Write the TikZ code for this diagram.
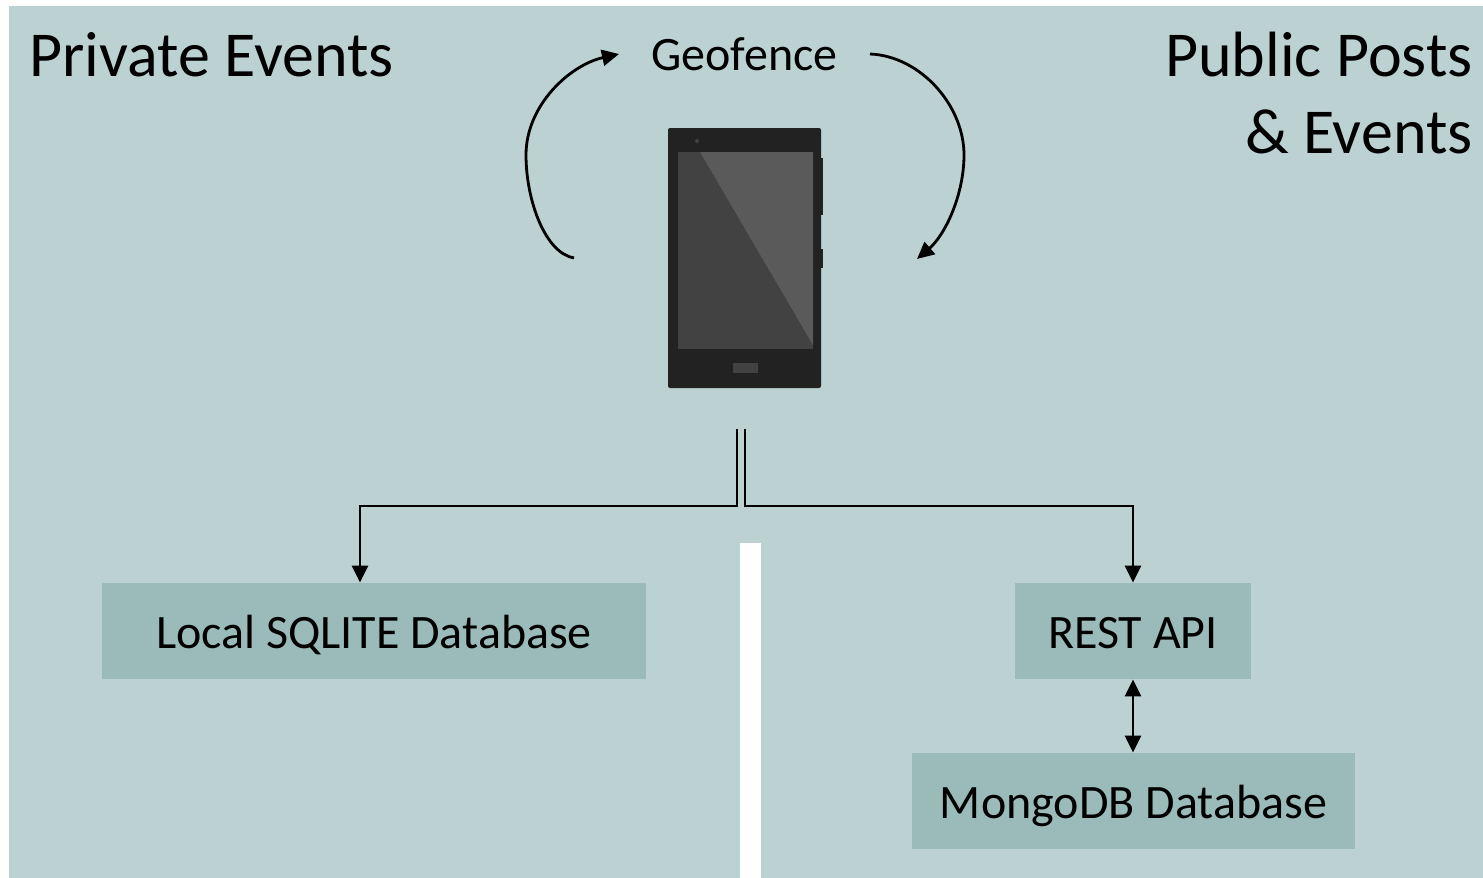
\documentclass[tikz,border=0pt]{standalone}
\usepackage{fontspec}
\setmainfont{Carlito}
\usetikzlibrary{positioning, arrows.meta}
\definecolor{panel}{HTML}{BBD1D2}
\definecolor{boxfill}{HTML}{9ABBBA}
\definecolor{phonebody}{HTML}{222222}
\definecolor{phonedark}{HTML}{424242}
\definecolor{phonelight}{HTML}{5A5A5A}
\tikzset{
  dbbox/.style={fill=boxfill, minimum height=48pt, inner sep=0pt, text height=20pt, text depth=3pt, font=\fontsize{24}{27}\selectfont},
  heading/.style={align=right, inner sep=0pt, font=\fontsize{32}{38.5}\selectfont},
  link/.style={line width=1.4pt, -{Triangle[length=8.5pt,width=8pt]}}
}
\begin{document}
\begin{tikzpicture}[x=0.5pt,y=-0.5pt]
\useasboundingbox (0,0) rectangle (1483,878);
%background
\fill[panel] (9,6) rectangle (1483,878);
\fill[white] (740,543) rectangle (761,878);
%headings
\node[heading, anchor=west](Private) at (29,55){Private Events};
\node[heading, anchor=east](Public) at (1473,93){Public Posts\\ \& Events};
\node[inner xsep=16pt, inner ysep=0pt, font=\fontsize{24}{27}\selectfont](Geofence) at (744.5,54){Geofence};
%phone
\fill[phonebody, rounded corners=1pt] (668,128) rectangle (821,388);
\fill[phonebody] (821,158) rectangle (823,215);
\fill[phonebody] (821,249) rectangle (823,268);
\fill[phonedark] (678,152) rectangle (813,349);
\fill[phonelight] (700,152) -- (813,152) -- (813,345) -- cycle;
\fill[phonedark] (733,363) rectangle (758,373);
\fill[phonedark] (697,141) circle (1pt);
%boxes
\node[dbbox, minimum width=272pt](Local) at (374,631){Local SQLITE Database};
\node[dbbox, minimum width=118pt](Rest) at (1133,631){REST API};
\node[dbbox, minimum width=221.5pt](Mongo) at (1133.5,801){MongoDB Database};
%geofence loop
\coordinate (LoopL) at (574,258);
\coordinate (LoopR) at (917,259);
\draw[link] (LoopL) .. controls (545,253) and (526,200) .. (526,155) .. controls (526,105) and (570,65) .. (Geofence.west);
\draw[link] (Geofence.east) .. controls (920,56) and (964,105) .. (964,155) .. controls (964,195) and (945,235) .. (LoopR);
%split below the phone
\coordinate (StemL) at (737,429);
\coordinate (StemR) at (745,429);
\coordinate (ElbowL) at (737,506);
\coordinate (ElbowR) at (745,506);
\coordinate (TurnL) at (360,506);
\draw[link] (StemL) -- (ElbowL) -- (TurnL) -- (TurnL |- Local.north);
\draw[link] (StemR) -- (ElbowR) -- (ElbowR -| Rest.north) -- (Rest.north);
\draw[link, {Triangle[length=8.5pt,width=8pt]}-{Triangle[length=8.5pt,width=8pt]}] (Rest.south) -- (Rest.south |- Mongo.north);
\end{tikzpicture}
\end{document}
